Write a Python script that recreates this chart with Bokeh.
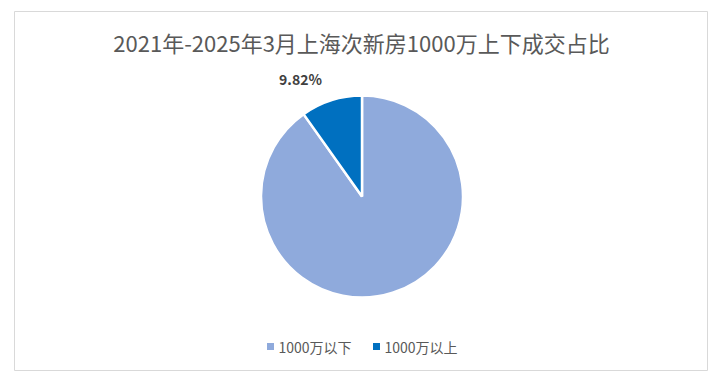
import math
from bokeh.plotting import figure
from bokeh.models import ColumnDataSource, Range1d
from bokeh.core.properties import value
from bokeh.embed import file_html
from bokeh.resources import INLINE

title = "2021年-2025年3月上海次新房1000万上下成交占比"
categories = ["1000万以下", "1000万以上"]
shares = [90.18, 9.82]
colors = ["#8FAADC", "#0070C0"]
label_text = "9.82%"

FONT = "Noto Sans CJK SC"

p = figure(width=714, height=374, output_backend="svg", toolbar_location=None,
           x_axis_location=None, y_axis_location=None,
           x_range=Range1d(0, 693), y_range=Range1d(0, 359),
           min_border_left=14, min_border_right=7, min_border_top=11, min_border_bottom=4)
p.grid.visible = False
p.outline_line_color = "#D9D9D9"
p.outline_line_width = 1
p.background_fill_color = "white"
p.border_fill_color = "white"

# wedges: first slice goes clockwise from 12 o'clock
total = sum(shares)
starts, ends = [], []
cur = math.pi / 2
for s in shares:
    span = s / total * 2 * math.pi
    ends.append(cur)
    starts.append(cur - span)
    cur -= span
src = ColumnDataSource(dict(start=starts, end=ends, color=colors, cat=categories))
cx, cy, r = 347.5, 174, 101
p.wedge(x=cx, y=cy, radius=r, start_angle="start", end_angle="end",
        fill_color="color", line_color="white", line_width=2.5, source=src)

# data label for small slice
p.text(x=[286], y=[292], text=[label_text], text_font=value(FONT), text_font_size="14px",
       text_font_style="bold", text_color="#404040", text_align="center", text_baseline="middle")

# title
p.text(x=[347], y=[329], text=[title], text_font=value(FONT), text_font_size="22px",
       text_color="#595959", text_align="center", text_baseline="middle")

# legend
lx = [256, 362]
ly = [24, 24]
p.scatter(x=lx, y=ly, marker="square", size=7, fill_color=colors, line_color=None)
p.text(x=[x + 8 for x in lx], y=ly, text=categories, text_font=value(FONT), text_font_size="14px",
       text_color="#595959", text_align="left", text_baseline="middle")

open("out.html", "w").write(file_html(p, INLINE))
